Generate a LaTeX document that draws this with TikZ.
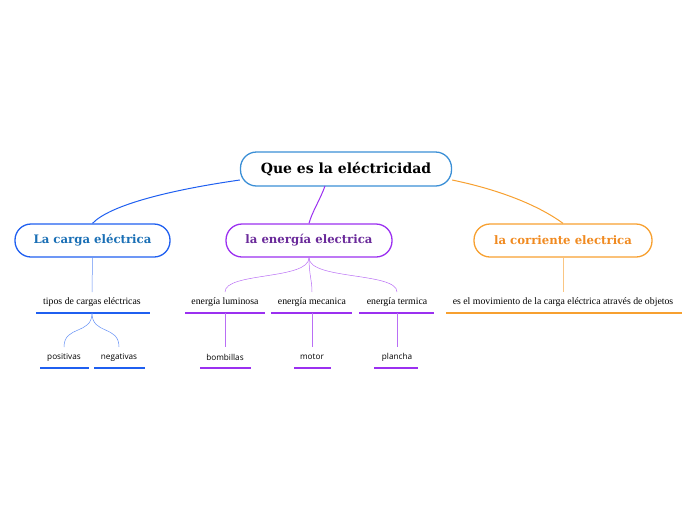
\documentclass[tikz,border=0pt]{standalone}
\usepackage{fontspec}
\setmainfont{Liberation Serif}
\newfontfamily\leaffont{Open Sans}
\newfontfamily\titlefont{DejaVu Serif}
\definecolor{cblue}{HTML}{1F5FF0}
\definecolor{cbluet}{HTML}{1A6FB5}
\definecolor{cpurple}{HTML}{9B30F0}
\definecolor{cpurplet}{HTML}{6A2A9A}
\definecolor{corange}{HTML}{F7A030}
\definecolor{coranget}{HTML}{F08A20}
\definecolor{croot}{HTML}{3B8FD6}
\tikzset{
  mainbox/.style={draw, line width=1.3pt, rounded corners=16pt, minimum height=33pt, inner sep=0pt, font=\titlefont\bfseries},
  subtext/.style={inner sep=0pt, font=\fontsize{9.8}{11}\selectfont},
  leaftext/.style={inner sep=0pt, font=\leaffont\fontsize{8.2}{10}\selectfont},
  uline/.style={line width=1.8pt},
}
\begin{document}
\begin{tikzpicture}[x=1pt,y=-1pt]
\useasboundingbox (0,0) rectangle (696,520);
% main nodes
\node[mainbox, draw=croot, minimum width=211pt, minimum height=34pt, font=\titlefont\bfseries\fontsize{14}{16}\selectfont] (root) at (346,169) {Que es la eléctricidad};
\node[mainbox, draw=cblue, text=cbluet, minimum width=155pt, font=\titlefont\bfseries\fontsize{11.7}{13}\selectfont] (carga) at (92.5,240.5) {La carga eléctrica};
\node[mainbox, draw=cpurple, text=cpurplet, minimum width=166pt, font=\titlefont\bfseries\fontsize{11.7}{13}\selectfont] (energia) at (309,240.5) {la energía electrica};
\node[mainbox, draw=corange, text=coranget, minimum width=178pt, font=\titlefont\bfseries\fontsize{11.7}{13}\selectfont] (corr) at (563,240.5) {la corriente electrica};
% main connectors
\draw[cblue, line width=1pt] (root.west|-0,180) .. controls (170,190) and (110,205) .. (carga.north);
\draw[cpurple, line width=1pt] (325,186) .. controls (320,200) and (312,212) .. (energia.north);
\draw[corange, line width=1pt] (root.east|-0,180) .. controls (510,192) and (545,210) .. (corr.north);
% carga branch
\node[subtext] (tipos) at (92,302) {tipos de cargas eléctricas};
\draw[cblue, uline] (36,313) -- (150,313);
\coordinate (tiposb) at (92,313);
\draw[cblue!70, line width=0.5pt] (carga.south) -- (92,292);
\node[leaftext] (pos) at (64,357) {positivas};
\node[leaftext] (neg) at (119,357) {negativas};
\draw[cblue, uline] (40,368) -- (89,368);
\draw[cblue, uline] (94,368) -- (145,368);
\draw[cblue!70, line width=0.5pt] (tiposb) .. controls (92,335) and (64,325) .. (64,347);
\draw[cblue!70, line width=0.5pt] (tiposb) .. controls (92,335) and (119,325) .. (119,347);
% energia branch
\node[subtext] (lum) at (225,302) {energía luminosa};
\node[subtext] (mec) at (312,302) {energía mecanica};
\node[subtext] (ter) at (397,302) {energía termica};
\draw[cpurple, uline] (185,313) -- (265,313);
\draw[cpurple, uline] (271,313) -- (352,313);
\draw[cpurple, uline] (359,313) -- (434,313);
\draw[cpurple!70, line width=0.5pt] (energia.south) .. controls (309,280) and (225,272) .. (225,292);
\draw[cpurple!70, line width=0.5pt] (energia.south) .. controls (309,275) and (312,280) .. (312,292);
\draw[cpurple!70, line width=0.5pt] (energia.south) .. controls (309,280) and (397,272) .. (397,292);
\node[leaftext] (bomb) at (225,357) {bombillas};
\node[leaftext] (motor) at (312,357) {motor};
\node[leaftext] (plan) at (397,357) {plancha};
\draw[cpurple, uline] (200,368) -- (251,368);
\draw[cpurple, uline] (294,368) -- (331,368);
\draw[cpurple, uline] (374,368) -- (418,368);
\draw[cpurple!70, line width=0.5pt] (225,313) -- (225,347);
\draw[cpurple!70, line width=0.5pt] (312,313) -- (312,347);
\draw[cpurple!70, line width=0.5pt] (397,313) -- (397,347);
% corriente branch
\node[subtext] (mov) at (563,302) {es el movimiento de la carga eléctrica através de objetos};
\draw[corange, uline] (446,313) -- (682,313);
\draw[corange!60, line width=0.5pt] (corr.south) -- (563,292);
\end{tikzpicture}
\end{document}
